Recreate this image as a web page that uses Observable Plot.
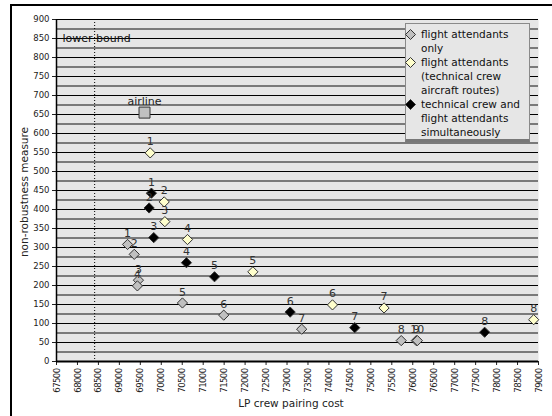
<!DOCTYPE html>
<html><head><meta charset="utf-8">
<script src="https://cdn.jsdelivr.net/npm/d3@7"></script>
<script src="https://cdn.jsdelivr.net/npm/@observablehq/plot@0.6"></script>
<style>
body{margin:0;background:#fff;font-family:"DejaVu Sans",sans-serif}
#wrap{position:relative;width:552px;height:416px;overflow:hidden;background:#fff}
#wrap svg{position:absolute;left:0;top:0}
.frameTop{position:absolute;left:10px;top:4px;width:560px;height:2px;background:#000}
.frameLeft{position:absolute;left:10px;top:4px;width:2px;height:420px;background:#000}
.ylab{position:absolute;left:24px;top:192px;transform:translate(-50%,-50%) rotate(-90deg);font-size:10.5px;color:#222;white-space:nowrap}
.xlab{position:absolute;left:291px;top:403px;transform:translate(-50%,-50%);font-size:10.5px;color:#222;white-space:nowrap}
#legend{position:absolute;left:405px;top:23px;width:123px;height:115px;background:#e6e6e6;border:1px solid #8a8a8a;border-bottom:3px solid #777;font-size:10.5px;color:#111;line-height:14px}
#legend .item{position:absolute;left:15px}
</style></head><body><div id="wrap"></div>
<script>
// ---- data ----
const lowerBound = 68410;
const airline = [{cost: 69600, value: 655, label: "airline"}];

const faOnlyCost  = [69195, 69355, 69455, 69430, 70505, 71490, 73350, 75725, 76085, 76110];
const faOnlyValue = [308, 282, 214, 199, 154, 122, 85, 55, 55, 55];

const faTechCost  = [69735, 70070, 70085, 70625, 72185, 74085, 75315, 78885];
const faTechValue = [549, 420, 368, 321, 236, 149, 141, 110];

const bothCost  = [69765, 69710, 69820, 70600, 71270, 73075, 74615, 77715];
const bothValue = [443, 404, 326, 260, 223, 130, 89, 77];

const seriesNames = ["flight attendants only", "flight attendants (technical crew aircraft routes)", "technical crew and flight attendants simultaneously"];
const legendLines = [["flight attendants", "only"], ["flight attendants", "(technical crew", "aircraft routes)"], ["technical crew and", "flight attendants", "simultaneously"]];
const seriesFill = ["#c0c0c0", "#ffffcc", "#000000"];

const xTicks = d3.range(67500, 79001, 500);
const yTicks = d3.range(0, 901, 50);
const yMinor = d3.range(25, 900, 50);

// ---- build table ----
const pts = [];
[[faOnlyCost, faOnlyValue], [faTechCost, faTechValue], [bothCost, bothValue]].forEach(([c, v], s) => {
  c.forEach((x, i) => pts.push({series: seriesNames[s], cost: x, value: v[i], label: String(i + 1)}));
});

const plot = Plot.plot({
  width: 552, height: 416,
  marginLeft: 56, marginRight: 14, marginTop: 19, marginBottom: 55,
  style: {background: "transparent", fontFamily: "DejaVu Sans", fontSize: "9px", color: "#222"},
  x: {domain: [67500, 79000]},
  y: {domain: [0, 900]},
  color: {domain: seriesNames, range: seriesFill},
  marks: [
    Plot.frame({fill: "#e6e6e6", stroke: null}),
    Plot.ruleY(yMinor, {stroke: "#7a7a7a", strokeWidth: 2}),
    Plot.ruleY(yTicks.filter(d => d > 0), {stroke: "#000", strokeWidth: 1}),
    Plot.ruleX([lowerBound], {stroke: "#000", strokeDasharray: "1,2", strokeWidth: 1}),
    Plot.text(["lower bound"], {x: 67500, y: 850, text: d => d, textAnchor: "start", dx: 6, fontSize: 11, fill: "#111"}),
    Plot.axisY({ticks: yTicks, tickSize: 4, tickPadding: 3, label: null, fontSize: 8.5}),
    Plot.axisX({ticks: xTicks, tickSize: 4, tickPadding: 3, tickRotate: -90, tickFormat: d => String(d), label: null, fontSize: 9.5, fontFamily: "DejaVu Sans Condensed"}),
    Plot.ruleX([67500], {stroke: "#000", strokeWidth: 1.5}),
    Plot.ruleY([0], {stroke: "#000", strokeWidth: 2}),
    Plot.dot(airline, {x: "cost", y: "value", symbol: "square", r: 6.2, fill: "#c0c0c0", stroke: "#333", strokeWidth: 1}),
    Plot.text(airline, {x: "cost", y: "value", text: "label", dy: -11, fontSize: 11, fill: "#222"}),
    Plot.dot(pts, {x: "cost", y: "value", symbol: "diamond2", r: 4.6, fill: "series", stroke: "#333", strokeWidth: 1}),
    Plot.text(pts, {x: "cost", y: "value", text: "label", dy: -11, fontSize: 11, fill: "#333"})
  ]
});
const wrap = document.getElementById("wrap");
wrap.appendChild(plot);
d3.select(plot).selectAll("g[aria-label='x-axis tick label'] text").style("letter-spacing", "-0.6px");

const mk = (cls, txt) => { const d = document.createElement("div"); d.className = cls; if (txt) d.textContent = txt; wrap.appendChild(d); return d; };
mk("frameTop"); mk("frameLeft");
mk("ylab", "non-robustness measure");
mk("xlab", "LP crew pairing cost");

const lg = mk("legend");
lg.id = "legend";
let itemTop = 3;
legendLines.forEach((lines, s) => {
  const it = document.createElement("div");
  it.className = "item";
  it.style.top = itemTop + "px";
  it.innerHTML = lines.join("<br>");
  lg.appendChild(it);
  const svg = document.createElementNS("http://www.w3.org/2000/svg", "svg");
  svg.setAttribute("width", 11); svg.setAttribute("height", 11);
  svg.style.position = "absolute";
  svg.style.left = "-1px"; svg.style.top = (itemTop + 1.5) + "px";
  svg.innerHTML = `<polygon points="5.5,0.5 10.5,5.5 5.5,10.5 0.5,5.5" fill="${seriesFill[s]}" stroke="#333" stroke-width="1"/>`;
  lg.appendChild(svg);
  itemTop += lines.length * 14;
});
</script></body></html>
